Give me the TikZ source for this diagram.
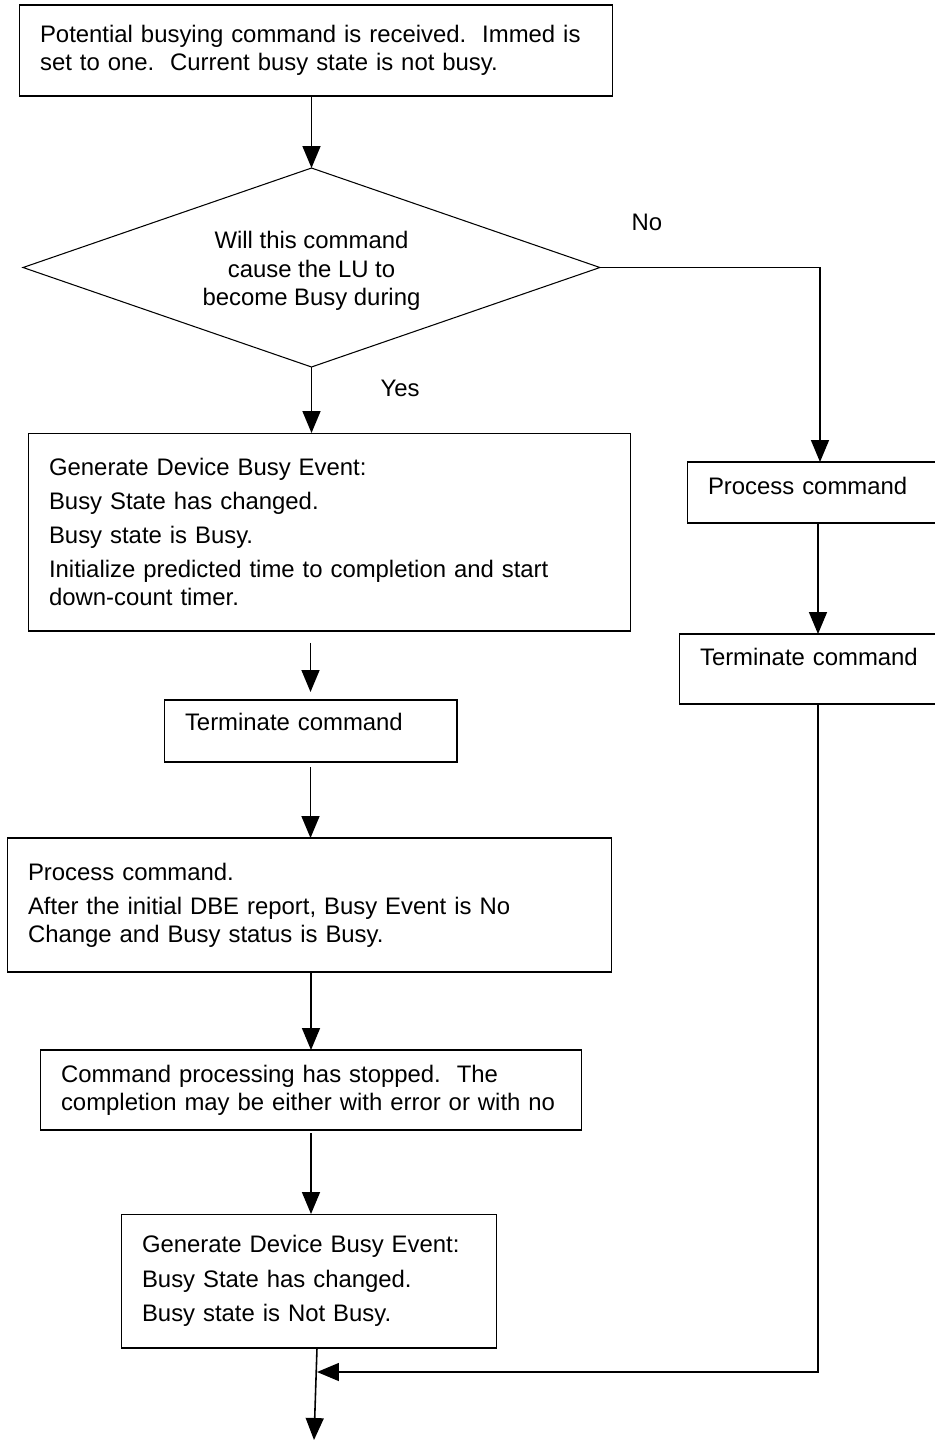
\documentclass[tikz,border=0pt]{standalone}
\usepackage{fontspec}
\setmainfont{Liberation Sans}
\usetikzlibrary{shapes.geometric, arrows.meta, positioning, calc}

\begin{document}
\begin{tikzpicture}[
  x=0.02cm, y=-0.02cm,
  every node/.style={font=\fontsize{13.6}{16}\selectfont},
  procbox/.style={draw, line width=0.6pt, inner xsep=0.42cm, inner ysep=0pt, outer sep=0pt, align=left},
  decision/.style={draw, diamond, shape aspect=2.9, line width=0.6pt, inner sep=0pt, outer sep=0pt, minimum width=11.54cm, minimum height=3.98cm},
  arr/.style={-{Triangle[length=0.44cm, width=0.36cm]}, line width=0.9pt},
  lbl/.style={inner sep=0pt},
]
  \useasboundingbox (0,0) rectangle (935,1441);

  \node[procbox, minimum width=11.88cm, minimum height=1.82cm, text width=11.04cm] (start) at (316,50.5) {Potential busying command is received.\ \ Immed is\\set to one.\ \ Current busy state is not busy.};
  \node[decision] (decide) at (311.5,267.5) {};
  \node[lbl, align=center, font=\fontsize{13.6}{16.4}\selectfont] (decidetxt) at (311.5,271) {Will this command\\cause the LU to\\become Busy during};
  \node[lbl] (nolbl) at (647,222) {No};
  \node[lbl] (yeslbl) at (400,388) {Yes};

  \node[procbox, minimum width=12.06cm, minimum height=3.96cm, text width=11.22cm] (dbeon) at (329.5,532) {Generate Device Busy Event:\\[3.5pt] Busy State has changed.\\[3.5pt] Busy state is Busy.\\[3.5pt] Initialize predicted time to completion and start\\down-count timer.};
  \node[procbox, minimum width=5.86cm, minimum height=1.24cm, text width=5.02cm, text depth=11pt] (termA) at (310.5,731) {Terminate command};
  \node[procbox, minimum width=12.10cm, minimum height=2.68cm, text width=11.26cm] (process) at (309.5,905) {Process command.\\[3.5pt] After the initial DBE report, Busy Event is No\\Change and Busy status is Busy.};
  \node[procbox, minimum width=10.84cm, minimum height=1.60cm, text width=10.00cm] (stopped) at (311,1090) {Command processing has stopped.\ \ The\\completion may be either with error or with no};
  \node[procbox, minimum width=7.52cm, minimum height=2.68cm, text width=6.68cm] (dbeoff) at (309,1281) {Generate Device Busy Event:\\[3.5pt] Busy State has changed.\\[3.5pt] Busy state is Not Busy.};

  \node[procbox, minimum width=5.26cm, minimum height=1.22cm, text width=4.42cm, text depth=7.5pt] (procB) at (818.5,492.5) {Process command};
  \node[procbox, minimum width=5.56cm, minimum height=1.40cm, text width=4.72cm, text depth=14pt] (termB) at (818,669) {Terminate command};

  \coordinate (nocorner) at (820,267.5);
  \coordinate (merge) at (317,1372);
  \coordinate (exit) at (314,1440);

  \draw[arr] (start.south -| decide.north) -- (decide.north);
  \draw[arr] (decide.south) -- (decide.south |- dbeon.north);
  \draw[arr] (decide.east) -- (nocorner) -- (nocorner |- procB.north);
  \draw[arr, shorten <=0.24cm, shorten >=0.16cm] (dbeon.south -| termA.north) -- (termA.north);
  \draw[arr, shorten <=0.1cm] (termA.south) -- (process.north -| termA.south);
  \draw[arr] (process.south -| stopped.north) -- (stopped.north);
  \draw[arr, shorten <=0.06cm] (stopped.south) -- (stopped.south |- dbeoff.north);
  \draw[arr] (procB.south -| termB.north) -- (termB.north);
  \draw[arr] (termB.south) |- (merge);
  \draw[arr] (merge |- dbeoff.south) -- (exit);
\end{tikzpicture}
\end{document}
